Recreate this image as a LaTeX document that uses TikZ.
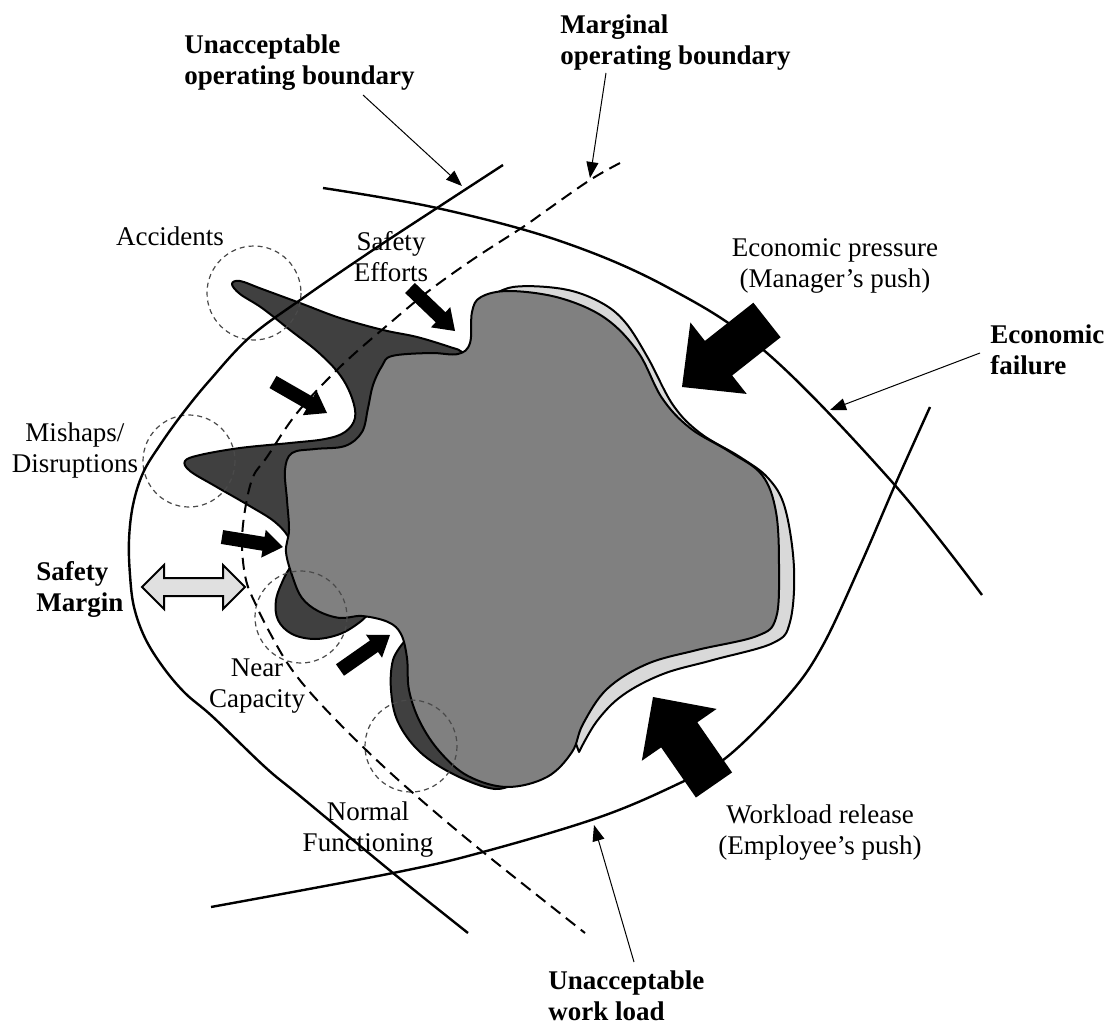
\documentclass[tikz,border=0pt]{standalone}
\usepackage{fontspec}
\setmainfont{Liberation Serif}
\usetikzlibrary{arrows.meta, calc}
\usepackage{xcolor}
\definecolor{DarkZone}{HTML}{404040}
\definecolor{CoreZone}{HTML}{808080}
\definecolor{RimZone}{HTML}{D9D9D9}
\definecolor{MarginFill}{HTML}{E0E0E0}
\definecolor{ZoneLine}{HTML}{4A4A4A}

% block arrow: tail, tip, half shaft, half head, start of head (fraction)
\newcommand{\pusharrow}[5]{%
  \coordinate (pa-base) at ($(#1)!#5!(#2)$);
  \fill ($(#1)!#3!90:(#2)$) -- ($(pa-base)!#3!90:(#2)$) -- ($(pa-base)!#4!90:(#2)$) -- (#2)
    -- ($(pa-base)!#4!-90:(#2)$) -- ($(pa-base)!#3!-90:(#2)$) -- ($(#1)!#3!-90:(#2)$) -- cycle;}

\begin{document}
\begin{tikzpicture}[x=0.5pt, y=-0.5pt,
    boundary/.style={line width=1.2pt},
    marginal/.style={line width=1pt, dash pattern=on 6pt off 3.5pt},
    leader/.style={-{Triangle[length=8pt,width=6pt]}, line width=0.5pt},
    zone/.style={draw=ZoneLine, line width=0.6pt, dash pattern=on 2.5pt off 2pt},
    blob/.style={draw=black, line width=1pt, line join=round},
    lbl/.style={font=\fontsize{13.5}{15.5}\selectfont, align=center, inner sep=0pt},
    blbl/.style={font=\fontsize{13.5}{15.5}\selectfont\bfseries, align=left, inner sep=0pt}
  ]
  \useasboundingbox (0,0) rectangle (1110,1028);

  % Operating point regions
  \path[blob, fill=RimZone] plot[smooth, tension=0.6] coordinates {(485,300) (513,287) (563,289) (600,302) (625,322) (648,358) (673,405) (700,433) (740,457) (768,478) (785,508) (794,568) (790,622) (773,643) (713,660) (663,674) (623,695) (597,721) (579,752)} -- (560,700) -- (640,480) -- cycle;
  \path[blob, fill=DarkZone] plot[smooth, tension=0.6] coordinates {(462,362) (462,352) (450,347) (417,337) (383,330) (340,318) (300,303) (262,289) (240,281) (232,284) (240,294) (262,308) (290,330) (318,352) (340,375) (352,398) (355,418) (345,432) (325,439) (290,443) (240,448) (200,455) (185,461) (190,471) (215,486) (248,505) (275,522) (290,540) (293,560) (284,578) (276,600) (278,620) (292,634) (315,639) (340,634) (360,622) (372,610)} -- (400,560) -- (440,420) -- cycle;
  \path[blob, fill=DarkZone] plot[smooth, tension=0.6] coordinates {(404,642) (393,660) (391,690) (398,722) (420,752) (455,775) (495,789) (520,781)} -- (470,700) -- cycle;
  \path[blob, fill=CoreZone] plot[smooth cycle, tension=0.6] coordinates {(392,356) (430,353) (458,354) (470,343) (472,312) (481,297) (510,291) (560,298) (605,318) (638,352) (662,398) (690,428) (730,452) (762,475) (776,512) (779,568) (776,618) (757,636) (697,650) (647,664) (607,689) (583,724) (572,752) (547,777) (507,787) (468,776) (440,752) (420,722) (409,690) (407,658) (401,634) (388,622) (362,616) (340,618) (318,611) (302,598) (293,578) (286,552) (289,530) (287,500) (285,470) (292,453) (315,449) (345,446) (362,432) (368,408) (373,385) (382,366)};

  % Event zones
  \draw[zone] (254,293) circle[radius=47];
  \draw[zone] (189,461) circle[radius=46];
  \draw[zone] (301,617) circle[radius=46];
  \draw[zone] (411,746) circle[radius=46];

  % Boundaries
  \draw[boundary] plot[smooth, tension=0.6] coordinates {(503,165) (437,208) (370,252) (303,298) (250,337) (210,380) (183,413) (160,445) (143,473) (133,505) (129,540) (130,575) (134,607) (145,638) (163,667) (185,693) (213,717) (265,767) (300,796) (393,873) (468,933)};
  \draw[marginal] plot[smooth, tension=0.6] coordinates {(620,163) (590,180) (547,210) (523,227) (475,258) (430,290) (390,323) (340,367) (297,413) (267,457) (253,477) (245,510) (242,545) (246,580) (256,605) (270,633) (290,667) (317,700) (363,747) (413,793) (483,852) (585,933)};
  \draw[boundary] plot[smooth, tension=0.6] coordinates {(323,188) (437,208) (560,241) (667,287) (767,353) (893,483) (982,595)};
  \draw[boundary] plot[smooth, tension=0.6] coordinates {(930,407) (895,485) (860,566) (822,647) (787,697) (727,757) (680,783) (600,817) (483,852) (393,873) (211,907)};

  % Pushes
  \coordinate (se-tail) at (410,288);  \coordinate (se-tip) at (455,331);
  \coordinate (sa-tail) at (273,382);  \coordinate (sa-tip) at (327,413);
  \coordinate (sb-tail) at (222,537);  \coordinate (sb-tip) at (283,547);
  \coordinate (sc-tail) at (340,670);  \coordinate (sc-tip) at (390,635);
  \coordinate (ep-tail) at (767,320);  \coordinate (ep-tip) at (682,387);
  \coordinate (wr-tail) at (714,785);  \coordinate (wr-tip) at (653,697);
  \pusharrow{se-tail}{se-tip}{3.5pt}{7pt}{0.68}
  \pusharrow{sa-tail}{sa-tip}{3.5pt}{7pt}{0.68}
  \pusharrow{sb-tail}{sb-tip}{3.5pt}{7pt}{0.68}
  \pusharrow{sc-tail}{sc-tip}{3.5pt}{7pt}{0.68}
  \pusharrow{ep-tail}{ep-tip}{11pt}{22.75pt}{0.57}
  \pusharrow{wr-tail}{wr-tip}{11pt}{22.75pt}{0.57}

  % Safety margin
  \draw[line width=1pt, fill=MarginFill] (142,587) -- (164,565) -- (164,578) -- (223,578) -- (223,565) -- (245,587) -- (223,609) -- (223,596) -- (164,596) -- (164,609) -- cycle;

  % Labels
  \node[blbl, anchor=north west] (uob-lbl) at (184,34) {Unacceptable\\operating boundary};
  \node[blbl, anchor=north west] (mob-lbl) at (560,14) {Marginal\\operating boundary};
  \node[blbl, anchor=north west] (efb-lbl) at (990,324) {Economic\\failure};
  \node[blbl, anchor=north west] (wlb-lbl) at (548,970) {Unacceptable\\work load};
  \node[blbl, anchor=north west] (sm-lbl) at (36,561) {Safety\\Margin};
  \node[lbl, anchor=base] (acc-lbl) at (170,245) {Accidents};
  \node[lbl, anchor=north] (se-lbl) at (391,231) {Safety\\Efforts};
  \node[lbl, anchor=north] (mis-lbl) at (75,422) {Mishaps/\\Disruptions};
  \node[lbl, anchor=north] (nc-lbl) at (257,658) {Near\\Capacity};
  \node[lbl, anchor=north] (nf-lbl) at (368,801) {Normal\\Functioning};
  \node[lbl, anchor=north] (ep-lbl) at (835,238) {Economic pressure\\(Manager’s push)};
  \node[lbl, anchor=north] (wr-lbl) at (820,804) {Workload release\\(Employee’s push)};

  % Leaders
  \coordinate (uob-from) at (363,95);  \coordinate (uob-to) at (462,186);
  \coordinate (mob-from) at (606,73);  \coordinate (mob-to) at (590,178);
  \coordinate (efb-from) at (980,353); \coordinate (efb-to) at (830,410);
  \coordinate (wlb-from) at (634,962); \coordinate (wlb-to) at (594,825);
  \draw[leader] (uob-from) -- (uob-to);
  \draw[leader] (mob-from) -- (mob-to);
  \draw[leader] (efb-from) -- (efb-to);
  \draw[leader] (wlb-from) -- (wlb-to);
\end{tikzpicture}
\end{document}
